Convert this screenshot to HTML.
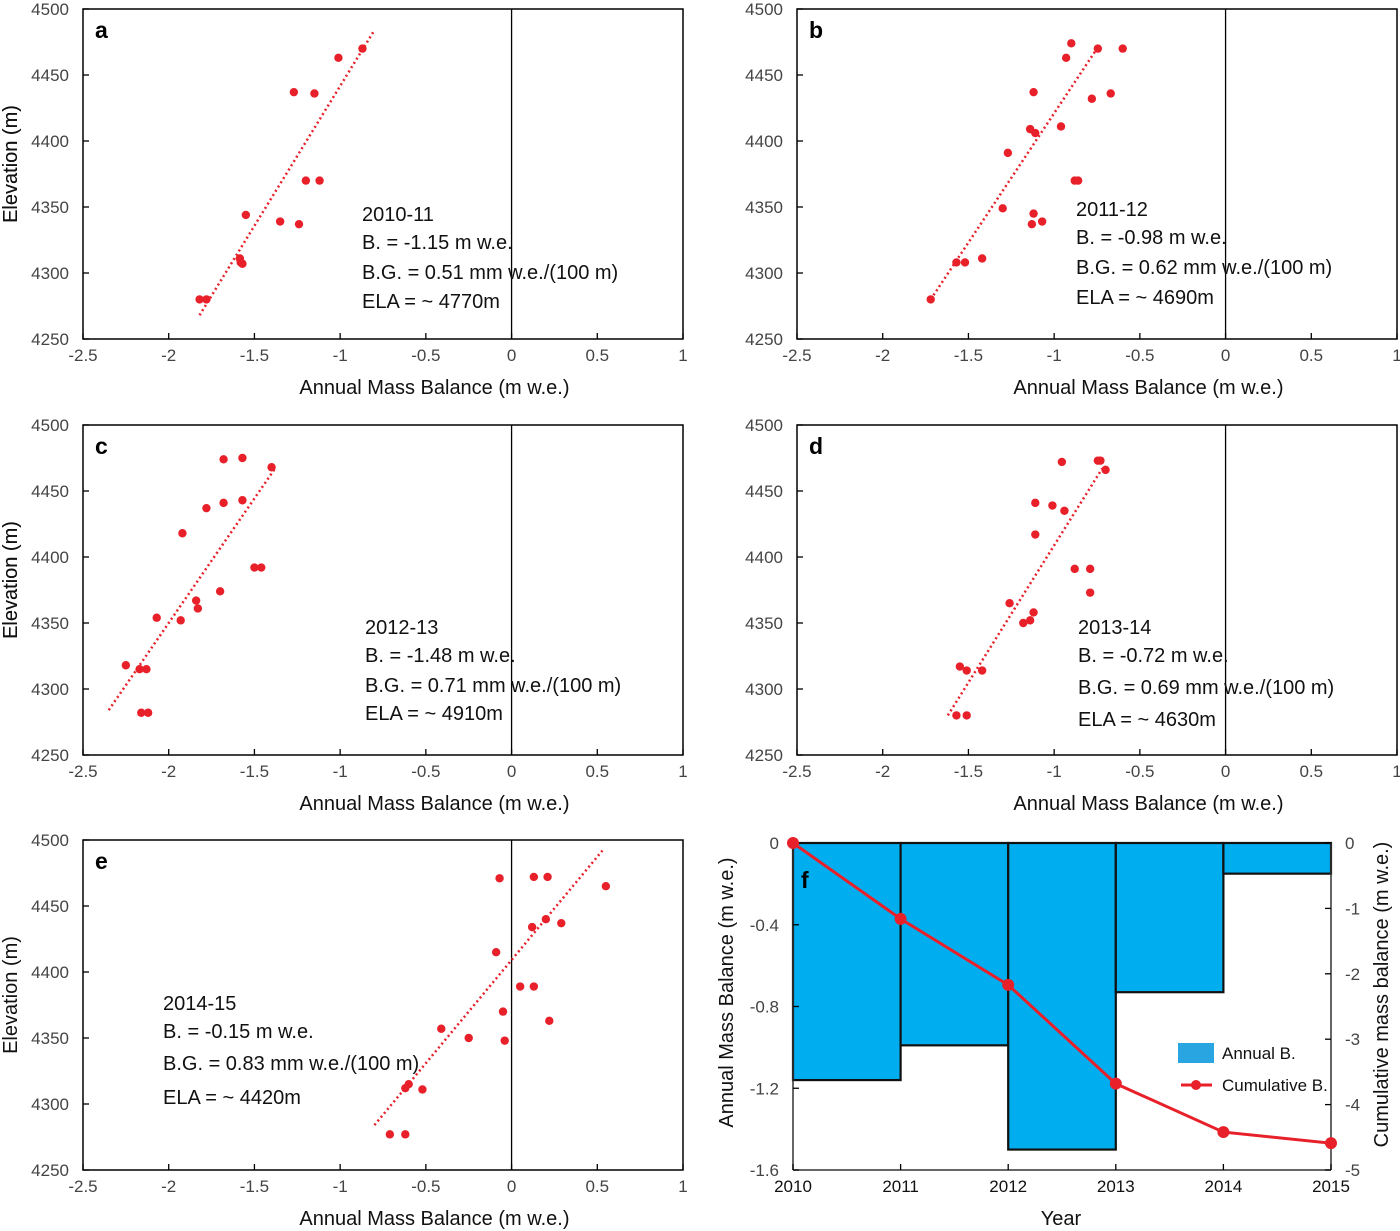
<!DOCTYPE html>
<html><head><meta charset="utf-8"><style>
body{margin:0;background:#fff;}
svg{display:block;font-family:"Liberation Sans",Arial,sans-serif;}
</style></head><body>
<svg id="fig" width="1400" height="1231" viewBox="0 0 1400 1231"></svg>
<script>
// ---- data ----
const xTicks = [-2.5,-2,-1.5,-1,-0.5,0,0.5,1];
const xTickLabels = ["-2.5","-2","-1.5","-1","-0.5","0","0.5","1"];
const yTicks = [4250,4300,4350,4400,4450,4500];
const yTickLabels = ["4250","4300","4350","4400","4450","4500"];

const aBal = [-1.82,-1.78,-1.58,-1.585,-1.57,-1.55,-1.35,-1.24,-1.20,-1.12,-1.27,-1.15,-1.01,-0.87];
const aElev = [4280,4280,4308,4311,4307,4344,4339,4337,4370,4370,4437,4436,4463,4470];
const aTrend = [[-1.82,4268],[-0.80,4484]];

const bBal = [-0.90,-0.745,-0.60,-0.93,-1.12,-0.67,-0.78,-1.14,-1.11,-0.96,-1.27,-0.88,-0.86,-1.30,-1.12,-1.13,-1.07,-1.57,-1.52,-1.42,-1.72];
const bElev = [4474,4470,4470,4463,4437,4436,4432,4409,4406,4411,4391,4370,4370,4349,4345,4337,4339,4308,4308,4311,4280];
const bTrend = [[-1.72,4280],[-0.75,4470]];

const cBal = [-2.25,-2.17,-2.13,-2.16,-2.12,-2.07,-1.93,-1.92,-1.84,-1.83,-1.70,-1.78,-1.68,-1.68,-1.57,-1.57,-1.50,-1.46,-1.40];
const cElev = [4318,4315,4315,4282,4282,4354,4352,4418,4367,4361,4374,4437,4441,4474,4475,4443,4392,4392,4468];
const cTrend = [[-2.35,4284],[-1.38,4467]];

const dBal = [-0.955,-0.745,-0.73,-0.70,-1.11,-1.01,-0.94,-1.11,-0.88,-0.79,-0.79,-1.26,-1.12,-1.14,-1.18,-1.55,-1.51,-1.42,-1.57,-1.51];
const dElev = [4472,4473,4473,4466,4441,4439,4435,4417,4391,4391,4373,4365,4358,4352,4350,4317,4314,4314,4280,4280];
const dTrend = [[-1.62,4280],[-0.72,4467]];

const eBal = [-0.07,0.13,0.21,0.55,0.20,0.12,0.29,-0.09,0.05,0.13,-0.05,0.22,-0.41,-0.25,-0.04,-0.60,-0.62,-0.52,-0.71,-0.62];
const eElev = [4471,4472,4472,4465,4440,4434,4437,4415,4389,4389,4370,4363,4357,4350,4348,4315,4312,4311,4277,4277];
const eTrend = [[-0.80,4284],[0.53,4492]];

const fYears = [2010,2011,2012,2013,2014,2015];
const fAnnual = [-1.16,-0.99,-1.50,-0.73,-0.15];
const fCum = [0,-1.16,-2.17,-3.68,-4.42,-4.59];
const fLeftTicks = [0,-0.4,-0.8,-1.2,-1.6];
const fLeftLabels = ["0","-0.4","-0.8","-1.2","-1.6"];
const fRightTicks = [0,-1,-2,-3,-4,-5];
const fRightLabels = ["0","-1","-2","-3","-4","-5"];

// ---- drawing ----
const NS="http://www.w3.org/2000/svg";
const svg=document.getElementById('fig');
function mk(tag,attrs,parent,text){const e=document.createElementNS(NS,tag);for(const k in attrs)e.setAttribute(k,attrs[k]);if(text!==undefined)e.textContent=text;(parent||svg).appendChild(e);return e;}

function scatterPanel(id,ox,oy,bal,elev,trend,letter,ann,annX,annY){
  const g=mk('g',{});
  
  
  const L=ox, R=ox+600, T=oy, B=oy+330;
  const X=v=>L+(v+2.5)*(600/3.5);
  const Y=v=>B-(v-4250)*(330/250);
  const fr=mk('rect',{x:L,y:T,width:R-L,height:B-T,fill:'none',stroke:'#000','stroke-width':1.5},g);
  
  
  const zl=mk('line',{x1:X(0),x2:X(0),y1:T,y2:B,stroke:'#000','stroke-width':1.3},g);
  
  
  xTicks.forEach((t,i)=>{
    mk('line',{x1:X(t),x2:X(t),y1:B,y2:B-6,stroke:'#000','stroke-width':1.3},g);
    const tl=mk('text',{x:X(t),y:B+22,'text-anchor':'middle','font-size':17,fill:'#444'},g,xTickLabels[i]);
    
    
  });
  yTicks.forEach((t,i)=>{
    mk('line',{x1:L,x2:L+6,y1:Y(t),y2:Y(t),stroke:'#000','stroke-width':1.3},g);
    const tl=mk('text',{x:L-14,y:Y(t)+6,'text-anchor':'end','font-size':17,fill:'#444'},g,yTickLabels[i]);
    
    
  });
  const xt=mk('text',{x:X(-0.45),y:B+55,'text-anchor':'middle','font-size':20,fill:'#111'},g,'Annual Mass Balance (m w.e.)');
  
  
  const yt=mk('text',{x:0,y:0,'text-anchor':'middle','font-size':20,fill:'#111',transform:`translate(17,${(T+B)/2-10}) rotate(-90)`},g,'Elevation (m)');
  
  
  const tr=mk('line',{x1:X(trend[0][0]),y1:Y(trend[0][1]),x2:X(trend[1][0]),y2:Y(trend[1][1]),stroke:'#e8202a','stroke-width':2.5,'stroke-dasharray':'2 3'},g);
  
  
  bal.forEach((b,i)=>{
    const c=mk('circle',{cx:X(b),cy:Y(elev[i]),r:4.2,fill:'#e8202a'},g);
    
    
  });
  const lt=mk('text',{x:L+12,y:T+29,'font-size':23,'font-weight':'bold',fill:'#000'},g,letter);
  
  
  ann.forEach((s,i)=>{
    const a=mk('text',{x:annX,y:annY[i],'font-size':20,fill:'#111'},g,s);
    
    
  });
}
scatterPanel('a',83,9,aBal,aElev,aTrend,'a',['2010-11','B. = -1.15 m w.e.','B.G. = 0.51 mm w.e./(100 m)','ELA = ~ 4770m'],362,[221,249,279,308]);
scatterPanel('b',797,9,bBal,bElev,bTrend,'b',['2011-12','B. = -0.98 m w.e.','B.G. = 0.62 mm w.e./(100 m)','ELA = ~ 4690m'],1076,[216,244,274,304]);
scatterPanel('c',83,425,cBal,cElev,cTrend,'c',['2012-13','B. = -1.48 m w.e.','B.G. = 0.71 mm w.e./(100 m)','ELA = ~ 4910m'],365,[634,662,692,720]);
scatterPanel('d',797,425,dBal,dElev,dTrend,'d',['2013-14','B. = -0.72 m w.e.','B.G. = 0.69 mm w.e./(100 m)','ELA = ~ 4630m'],1078,[634,662,694,726]);
scatterPanel('e',83,840,eBal,eElev,eTrend,'e',['2014-15','B. = -0.15 m w.e.','B.G. = 0.83 mm w.e./(100 m)','ELA = ~ 4420m'],163,[1010,1038,1070,1104]);

// panel f
(function(){
  const g=mk('g',{});
  
  
  const L=793,R=1331,T=843,B=1170;
  const X=v=>L+(v-2010)*(R-L)/5;
  const YL=v=>T-v*(B-T)/1.6;
  const YR=v=>T-v*(B-T)/5;
  fAnnual.forEach((a,i)=>{
    const r=mk('rect',{x:X(fYears[i]),y:T,width:X(fYears[i+1])-X(fYears[i]),height:YL(a)-T,fill:'#00adee',stroke:'#111','stroke-width':2.2},g);
    
    
  });
  mk('line',{x1:L,x2:L,y1:T,y2:B,stroke:'#333','stroke-width':1.5},g);
  mk('line',{x1:R,x2:R,y1:T,y2:B,stroke:'#333','stroke-width':1.5},g);
  mk('line',{x1:L,x2:R,y1:B,y2:B,stroke:'#333','stroke-width':1.5},g);
  fYears.forEach(y=>{
    mk('line',{x1:X(y),x2:X(y),y1:B,y2:B-6,stroke:'#000','stroke-width':1.3},g);
    const t=mk('text',{x:X(y),y:B+22,'text-anchor':'middle','font-size':17,fill:'#111'},g,String(y));
    
    
  });
  fLeftTicks.forEach((v,i)=>{
    mk('line',{x1:L,x2:L+6,y1:YL(v),y2:YL(v),stroke:'#000','stroke-width':1.3},g);
    const t=mk('text',{x:L-14,y:YL(v)+6,'text-anchor':'end','font-size':17,fill:'#444'},g,fLeftLabels[i]);
    
    
  });
  fRightTicks.forEach((v,i)=>{
    mk('line',{x1:R,x2:R-6,y1:YR(v),y2:YR(v),stroke:'#000','stroke-width':1.3},g);
    const t=mk('text',{x:R+14,y:YR(v)+6,'text-anchor':'start','font-size':17,fill:'#444'},g,fRightLabels[i]);
    
    
  });
  const pts=fCum.map((c,i)=>X(fYears[i])+','+YR(c)).join(' ');
  const pl=mk('polyline',{points:pts,fill:'none',stroke:'#e8202a','stroke-width':3},g);
  
  
  fCum.forEach((c,i)=>{
    const p=mk('circle',{cx:X(fYears[i]),cy:YR(c),r:6,fill:'#e8202a'},g);
    
    
  });
  const f=mk('text',{x:801,y:888,'font-size':23,'font-weight':'bold',fill:'#000'},g,'f');
  
  
  const xt=mk('text',{x:1061,y:1225,'text-anchor':'middle','font-size':20,fill:'#111'},g,'Year');
  
  
  const yl=mk('text',{x:0,y:0,'text-anchor':'middle','font-size':20,fill:'#111',transform:`translate(733,${(T+B)/2-14}) rotate(-90)`},g,'Annual Mass Balance (m w.e.)');
  
  
  const yr=mk('text',{x:0,y:0,'text-anchor':'middle','font-size':20,fill:'#111',transform:`translate(1388,${(T+B)/2-12}) rotate(-90)`},g,'Cumulative mass balance (m w.e.)');
  
  
  const lg=mk('g',{},g);
  
  
  mk('rect',{x:1178,y:1043,width:36,height:20,fill:'#29a6e1'},lg);
  const l1=mk('text',{x:1222,y:1059,'font-size':17,fill:'#111'},lg,'Annual B.');
  
  
  mk('line',{x1:1181,x2:1212,y1:1085,y2:1085,stroke:'#e8202a','stroke-width':3},lg);
  mk('circle',{cx:1196,cy:1085,r:5,fill:'#e8202a'},lg);
  const l2=mk('text',{x:1222,y:1091,'font-size':17,fill:'#111'},lg,'Cumulative B.');
  
  
})();
</script>
</body></html>
